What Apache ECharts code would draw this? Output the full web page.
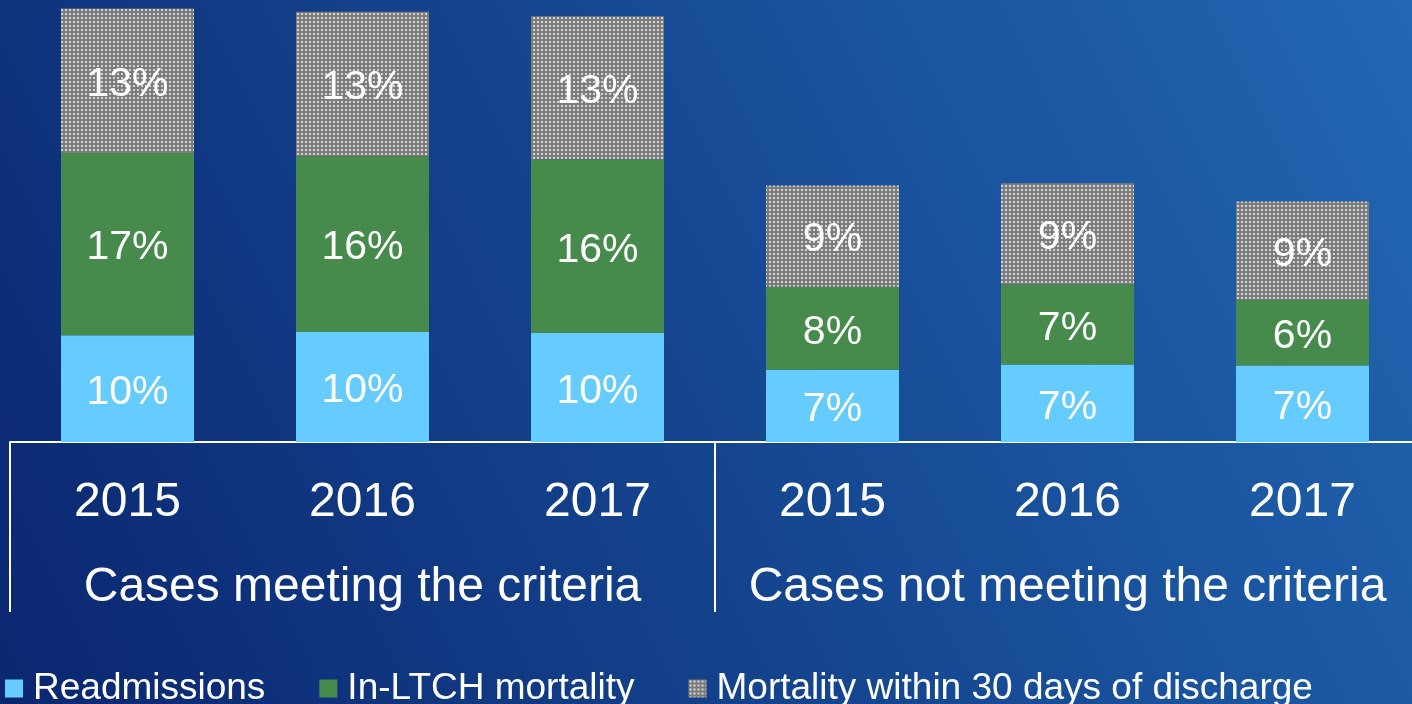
<!DOCTYPE html>
<html>
<head>
<meta charset="utf-8">
<script src="https://cdn.jsdelivr.net/npm/echarts@6/dist/echarts.min.js"></script>
<style>
  html, body { margin: 0; padding: 0; }
  #chart { width: 1412px; height: 704px; }
</style>
</head>
<body>
<div id="chart"></div>
<script>
// 数据
var years = ["2015", "2016", "2017", "2015", "2016", "2017"];
var groups = ["Cases meeting the criteria", "Cases not meeting the criteria"];
var readmissions = [9.9, 10.2, 10.1, 6.7, 7.2, 7.1];
var ltchMortality = [16.9, 16.3, 16.1, 7.7, 7.4, 6.1];
var mortality30 = [13.4, 13.4, 13.3, 9.4, 9.4, 9.1];

// 灰色点状填充
function makePattern() {
  var c = document.createElement("canvas");
  c.width = 4;
  c.height = 4;
  var ctx = c.getContext("2d");
  ctx.fillStyle = "#7c7c7c";
  ctx.fillRect(0, 0, 4, 4);
  ctx.fillStyle = "#d4d4d4";
  ctx.fillRect(1, 1, 2, 2);
  return c;
}
var dots = { image: makePattern(), repeat: "repeat" };

var font = "'Liberation Sans', Arial, sans-serif";

var chart = echarts.init(document.getElementById("chart"));

function label() {
  return {
    show: true,
    position: "inside",
    offset: [0, 4],
    color: "#fff",
    fontSize: 41,
    fontFamily: font,
    formatter: function (p) {
      return Math.round(p.value) + "%";
    },
  };
}

var option = {
  backgroundColor: {
    type: "linear",
    x: 0, y: 1, x2: 1, y2: 0,
    colorStops: [
      { offset: 0, color: "#0a266f" },
      { offset: 1, color: "#2167b2" },
    ],
  },
  legend: {
    left: 0,
    top: 665,
    itemWidth: 18,
    itemHeight: 18,
    itemGap: 54,
    textStyle: {
      color: "#fff",
      fontSize: 37,
      fontFamily: font,
      padding: [0, 0, 0, 5],
    },
    data: [
      { name: "Readmissions", icon: "rect" },
      { name: "In-LTCH mortality", icon: "rect" },
      { name: "Mortality within 30 days of discharge", icon: "rect" },
    ],
  },
  grid: {
    left: 10,
    top: 0,
    width: 1410,
    height: 442,
    outerBoundsMode: "none",
    containLabel: false,
  },
  xAxis: [
    {
      type: "category",
      data: years,
      axisLine: { lineStyle: { color: "#fff", width: 2 } },
      axisTick: { show: false },
      axisLabel: {
        color: "#fff",
        fontSize: 48,
        fontFamily: font,
        lineHeight: 48,
        margin: 37,
        interval: 0,
      },
    },
    {
      type: "category",
      position: "bottom",
      data: groups,
      axisLine: { show: false },
      axisTick: {
        show: true,
        interval: 0,
        length: 170,
        lineStyle: { color: "#fff", width: 2 },
      },
      axisLabel: {
        color: "#fff",
        fontSize: 48,
        fontFamily: font,
        lineHeight: 48,
        margin: 122,
        interval: 0,
      },
    },
  ],
  yAxis: {
    type: "value",
    min: 0,
    max: 41,
    show: false,
    splitLine: { show: false },
  },
  series: [
    {
      name: "Readmissions",
      type: "bar",
      stack: "total",
      barWidth: 133,
      itemStyle: { color: "#66ccff" },
      label: label(),
      data: readmissions,
    },
    {
      name: "In-LTCH mortality",
      type: "bar",
      stack: "total",
      barWidth: 133,
      itemStyle: { color: "#468b4c" },
      label: label(),
      data: ltchMortality,
    },
    {
      name: "Mortality within 30 days of discharge",
      type: "bar",
      stack: "total",
      barWidth: 133,
      itemStyle: { color: dots },
      label: label(),
      data: mortality30,
    },
  ],
};

chart.setOption(option);
</script>
</body>
</html>
